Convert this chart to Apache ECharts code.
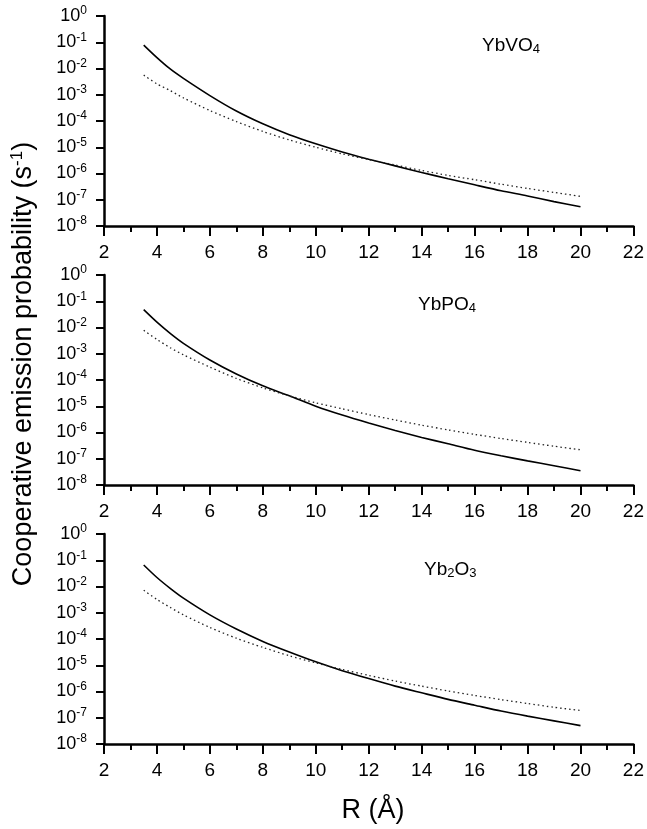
<!DOCTYPE html>
<html>
<head>
<meta charset="utf-8">
<script src="https://cdn.jsdelivr.net/npm/echarts@6/dist/echarts.min.js"></script>
<style>
  html, body {margin: 0; padding: 0; background: #fff;}
  #chart {width: 647px; height: 829px;}
</style>
</head>
<body>
<div id="chart"></div>
<script>
// distance R (Å) where the curves were read
const rValues = [3.5, 4, 4.5, 5, 6, 7, 8, 9, 10, 11, 12, 13, 14, 15, 16, 17, 18, 19, 20]

// YbVO4
const vo4Solid = [7.8e-2, 2.6e-2, 9.6e-3, 4.2e-3, 9.3e-4, 2.4e-4, 7.8e-5, 3.0e-5, 1.35e-5, 6.6e-6, 3.5e-6, 1.95e-6, 1.1e-6, 6.3e-7, 3.7e-7, 2.2e-7, 1.4e-7, 8.5e-8, 5.4e-8]
const vo4Dotted = [5.6e-3, 2.6e-3, 1.45e-3, 7.6e-4, 2.5e-4, 9.5e-5, 4.0e-5, 1.9e-5, 1.0e-5, 5.6e-6, 3.4e-6, 2.1e-6, 1.3e-6, 8.5e-7, 5.8e-7, 3.9e-7, 2.7e-7, 1.9e-7, 1.35e-7]

// YbPO4
const po4Solid = [4.8e-2, 1.6e-2, 6.0e-3, 2.5e-3, 5.8e-4, 1.7e-4, 6.0e-5, 2.5e-5, 1.0e-5, 4.6e-6, 2.3e-6, 1.2e-6, 6.5e-7, 3.7e-7, 2.1e-7, 1.3e-7, 8.3e-8, 5.4e-8, 3.5e-8]
const po4Dotted = [7.8e-3, 3.5e-3, 1.7e-3, 9.1e-4, 3.1e-4, 1.15e-4, 5.0e-5, 2.5e-5, 1.35e-5, 8.0e-6, 4.8e-6, 3.0e-6, 1.9e-6, 1.26e-6, 8.5e-7, 5.9e-7, 4.2e-7, 3.0e-7, 2.2e-7]

// Yb2O3
const o3Solid = [6.6e-2, 2.2e-2, 8.5e-3, 3.6e-3, 8.3e-4, 2.4e-4, 8.1e-5, 3.2e-5, 1.35e-5, 6.2e-6, 3.1e-6, 1.6e-6, 8.9e-7, 5.0e-7, 3.0e-7, 1.8e-7, 1.15e-7, 7.6e-8, 5.0e-8]
const o3Dotted = [7.2e-3, 3.2e-3, 1.6e-3, 8.3e-4, 2.75e-4, 1.07e-4, 4.8e-5, 2.3e-5, 1.23e-5, 6.9e-6, 4.1e-6, 2.5e-6, 1.6e-6, 1.05e-6, 7.1e-7, 4.9e-7, 3.5e-7, 2.5e-7, 1.9e-7]

const panelTops = [16, 275, 534]

const font = '"Liberation Sans", Arial, sans-serif'
const chart = echarts.init(document.getElementById('chart'), null, {renderer: 'canvas'})

const pairs = (ys) => rValues.map((r, i) => [r, ys[i]])

const grids = panelTops.map(top => ({left: 104, top: top, width: 531, height: 210}))

const xAxes = grids.map((g, i) => ({
    type: 'value',
    gridIndex: i,
    min: 2,
    max: 22,
    interval: 2,
    axisLine: {lineStyle: {color: '#000', width: 2.5}},
    axisTick: {length: 10, lineStyle: {color: '#000', width: 2}},
    minorTick: {show: true, splitNumber: 2, length: 6, lineStyle: {color: '#000', width: 2}},
    splitLine: {show: false},
    axisLabel: {color: '#000', fontFamily: font, fontSize: 19, margin: 17}
}))

const yAxes = grids.map((g, i) => ({
    type: 'log',
    logBase: 10,
    gridIndex: i,
    min: 1e-8,
    max: 1,
    axisLine: {lineStyle: {color: '#000', width: 2.5}},
    axisTick: {length: 8, lineStyle: {color: '#000', width: 2}},
    splitLine: {show: false},
    axisLabel: {
        margin: 17,
        formatter: v => '{b|10}{s|' + Math.round(Math.log10(v)) + '}',
        rich: {
            b: {color: '#000', fontFamily: font, fontSize: 18},
            s: {color: '#000', fontFamily: font, fontSize: 12, padding: [0, 0, 10, 0]}
        }
    }
}))

const lineSeries = (data, idx, dotted) => ({
    type: 'line',
    xAxisIndex: idx,
    yAxisIndex: idx,
    data: pairs(data),
    showSymbol: false,
    smooth: 0.25,
    lineStyle: dotted
        ? {color: '#222', width: 1.3, type: [1.5, 3]}
        : {color: '#000', width: 1.6}
})

const series = [
    lineSeries(vo4Solid, 0, false), lineSeries(vo4Dotted, 0, true),
    lineSeries(po4Solid, 1, false), lineSeries(po4Dotted, 1, true),
    lineSeries(o3Solid, 2, false), lineSeries(o3Dotted, 2, true)
]

// panel labels with subscripts
const labelText = [
    '{n|YbVO}{sub|4}',
    '{n|YbPO}{sub|4}',
    '{n|Yb}{sub|2}{n|O}{sub|3}'
]
const labelPos = [[482, 36], [418, 295], [424, 560]]
const labelRich = {
    n: {fontFamily: font, fontSize: 19, color: '#000'},
    sub: {fontFamily: font, fontSize: 13, color: '#000', padding: [8, 0, 0, 0]}
}

const graphic = labelText.map((t, i) => ({
    type: 'text',
    left: labelPos[i][0],
    top: labelPos[i][1],
    style: {text: t, rich: labelRich}
}))

graphic.push({
    type: 'text',
    x: 24,
    y: 364,
    rotation: Math.PI / 2,
    style: {
        text: '{t|Cooperative emission probability (s}{s|-1}{t|)}',
        align: 'center',
        verticalAlign: 'middle',
        rich: {
            t: {fontFamily: font, fontSize: 27, color: '#000'},
            s: {fontFamily: font, fontSize: 17, color: '#000', padding: [0, 0, 13, 0]}
        }
    }
})

graphic.push({
    type: 'text',
    x: 373,
    y: 811,
    style: {
        text: 'R (Å)',
        align: 'center',
        verticalAlign: 'middle',
        fontFamily: font,
        fontSize: 27,
        fill: '#000'
    }
})

chart.setOption({
    backgroundColor: '#fff',
    animation: false,
    grid: grids,
    xAxis: xAxes,
    yAxis: yAxes,
    series: series,
    graphic: graphic
})
</script>
</body>
</html>
